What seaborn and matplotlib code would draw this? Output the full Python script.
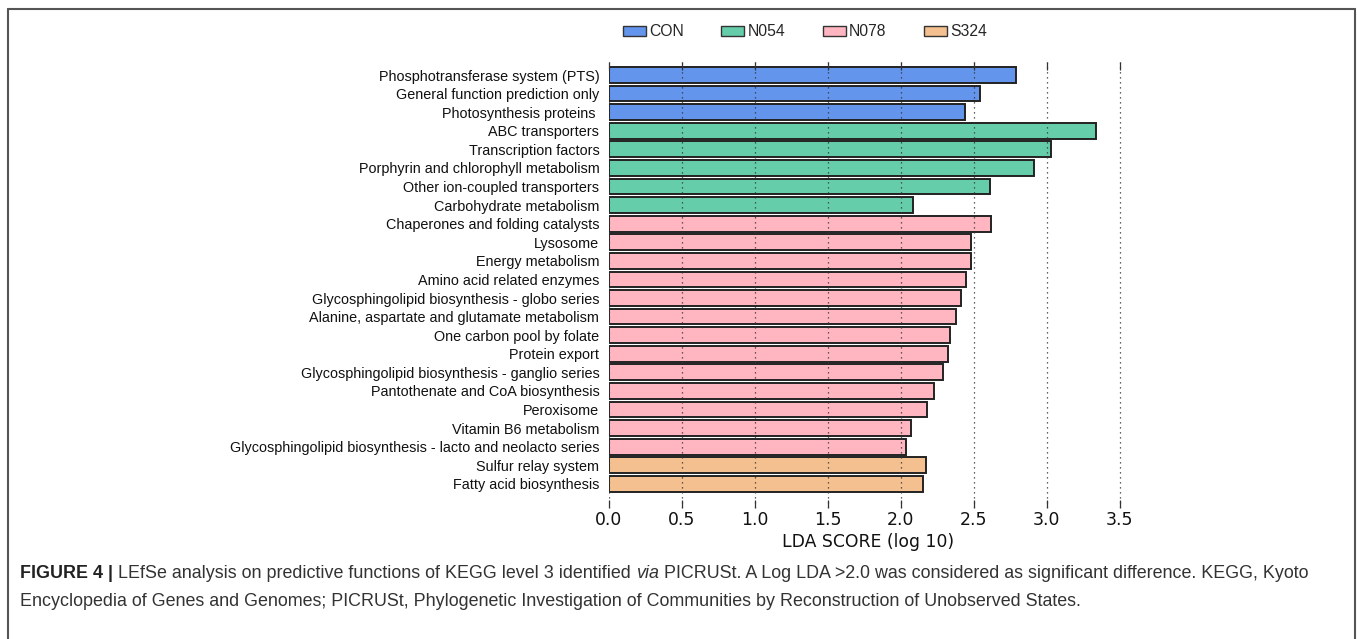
import matplotlib
matplotlib.use("Agg")
import matplotlib.pyplot as plt
import seaborn as sns
import pandas as pd
from matplotlib.patches import Patch
from matplotlib.lines import Line2D

features = [
    "Phosphotransferase system (PTS)",
    "General function prediction only",
    "Photosynthesis proteins ",
    "ABC transporters",
    "Transcription factors",
    "Porphyrin and chlorophyll metabolism",
    "Other ion-coupled transporters",
    "Carbohydrate metabolism",
    "Chaperones and folding catalysts",
    "Lysosome",
    "Energy metabolism",
    "Amino acid related enzymes",
    "Glycosphingolipid biosynthesis - globo series",
    "Alanine, aspartate and glutamate metabolism",
    "One carbon pool by folate",
    "Protein export",
    "Glycosphingolipid biosynthesis - ganglio series",
    "Pantothenate and CoA biosynthesis",
    "Peroxisome",
    "Vitamin B6 metabolism",
    "Glycosphingolipid biosynthesis - lacto and neolacto series",
    "Sulfur relay system",
    "Fatty acid biosynthesis",
]
scores = [2.79, 2.54, 2.44, 3.34, 3.03, 2.91, 2.61, 2.08, 2.62, 2.48, 2.48,
          2.445, 2.41, 2.38, 2.34, 2.32, 2.29, 2.23, 2.18, 2.07, 2.035, 2.175, 2.155]
groups = ["CON"] * 3 + ["N054"] * 5 + ["N078"] * 13 + ["S324"] * 2
group_names = ["CON", "N054", "N078", "S324"]
group_colors = ["#6495ED", "#66CDAA", "#FFB6C1", "#F5C08F"]
xticks = [0.0, 0.5, 1.0, 1.5, 2.0, 2.5, 3.0, 3.5]
xlabel = "LDA SCORE (log 10)"

df = pd.DataFrame({"feature": features, "score": scores, "group": groups})
palette = dict(zip(group_names, group_colors))

W, H = 1357, 639
fig = plt.figure(figsize=(W / 100, H / 100), dpi=100)
sns.set_style("white")
plt.rcParams["font.family"] = ["Liberation Sans", "DejaVu Sans"]

ax = fig.add_axes([609 / W, 1 - 508 / H, (1127 - 609) / W, (508 - 62) / H])
sns.barplot(data=df, x="score", y="feature", hue="group", palette=palette,
            hue_order=group_names, dodge=False, width=0.85, edgecolor="#222222",
            linewidth=1.4, legend=False, ax=ax, orient="h", saturation=1)

ax.set_xlim(0, 3.55)
ax.set_ylim(len(features) - 1 + 1.3, -0.7)
ax.set_xticks(xticks)
ax.set_xticklabels([f"{t:.1f}" for t in xticks], family="DejaVu Sans", fontsize=12.4, color="#111111")
ax.tick_params(axis="x", which="both", direction="in", top=True, bottom=True,
               length=6, width=0.9, color="#333333", pad=2)
ax.tick_params(axis="y", length=0, pad=7)
for lab in ax.get_yticklabels():
    lab.set_fontsize(10.4)
    lab.set_color("#111111")
ax.set_ylabel("")
ax.set_xlabel(xlabel, family="DejaVu Sans", fontsize=12.4, color="#111111", labelpad=3)
for s in ax.spines.values():
    s.set_visible(False)
ax.set_axisbelow(False)
ax.grid(axis="x", linestyle=(0, (1, 3)), color="#333333", linewidth=0.9)
ax.grid(axis="y", visible=False)

handles = [Patch(facecolor=c, edgecolor="#333333", linewidth=1.0, label=g)
           for g, c in zip(group_names, group_colors)]
fig.legend(handles=handles, loc="center", bbox_to_anchor=(805 / W, 1 - 32 / H), ncol=4,
           frameon=False, fontsize=11.3, handlelength=1.47, handleheight=0.6,
           handletextpad=0.2, columnspacing=2.4)

# border
bc = "#555555"
fig.add_artist(Line2D([8 / W, 1355 / W], [1 - 9 / H, 1 - 9 / H], transform=fig.transFigure, color=bc, lw=1.5))
fig.add_artist(Line2D([8 / W, 8 / W], [0, 1 - 9 / H], transform=fig.transFigure, color=bc, lw=1.5))
fig.add_artist(Line2D([1355 / W, 1355 / W], [0, 1 - 9 / H], transform=fig.transFigure, color=bc, lw=1.5))

# caption
cap_fs = 12.9
line1 = [("FIGURE 4 |", "bold", "normal", "#222222"),
         (" LEfSe analysis on predictive functions of KEGG level 3 identified ", "normal", "normal", "#333333"),
         ("via", "normal", "italic", "#333333"),
         (" PICRUSt. A Log LDA >2.0 was considered as significant difference. KEGG, Kyoto", "normal", "normal", "#333333")]
line2 = "Encyclopedia of Genes and Genomes; PICRUSt, Phylogenetic Investigation of Communities by Reconstruction of Unobserved States."

fig.canvas.draw()
renderer = fig.canvas.get_renderer()
x0 = 20 / W
x = x0
y1 = 1 - 574 / H
for txt, wt, st, col in line1:
    t = fig.text(x, y1, txt, fontsize=cap_fs, fontweight=wt, fontstyle=st, color=col, va="center", ha="left")
    bb = t.get_window_extent(renderer)
    x += bb.width / W
fig.text(x0, 1 - 601 / H, line2, fontsize=cap_fs, color="#333333", va="center", ha="left")

fig.savefig("out.png", dpi=100)
